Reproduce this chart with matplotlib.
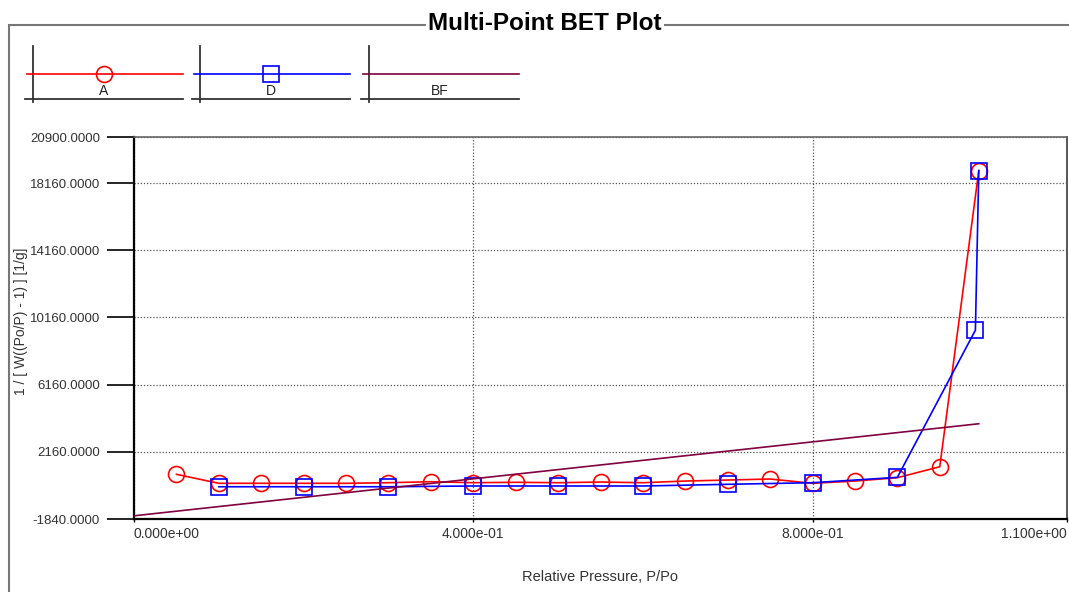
import numpy as np
import matplotlib.pyplot as plt
from matplotlib.lines import Line2D
from matplotlib.patches import Rectangle

##################################################################################
# DATA
##################################################################################

a_x = [0.05, 0.10, 0.15, 0.20, 0.25, 0.30, 0.35, 0.40, 0.45, 0.50,
       0.55, 0.60, 0.65, 0.70, 0.75, 0.80, 0.85, 0.90, 0.95, 0.996]
a_y = [820, 285, 285, 285, 285, 320, 380, 320, 345, 320,
       360, 320, 420, 480, 540, 285, 420, 620, 1270, 18900]

d_x = [0.10, 0.20, 0.30, 0.40, 0.50, 0.60, 0.70, 0.80, 0.90, 0.992, 0.996]
d_y = [80, 80, 80, 125, 125, 125, 225, 320, 640, 9400, 18900]

bf_x = [0.0, 0.996]
bf_y = [-1650, 3830]

y_ticks = [-1840, 2160, 6160, 10160, 14160, 18160, 20900]
x_ticks = [0.0, 0.4, 0.8, 1.1]
x_tick_labels = ["0.000e+00", "4.000e-01", "8.000e-01", "1.100e+00"]
series_names = ["A", "D", "BF"]

RED, BLUE, BF_COL = "#ff0000", "#0000ff", "#800040"

##################################################################################
# FIGURE
##################################################################################

plt.rcParams['font.family'] = ['Liberation Sans', 'DejaVu Sans']
W, H = 1069, 592
fig = plt.figure(figsize=(W / 100, H / 100), dpi=100)

def fx(px): return px / W
def fy(py): return 1 - py / H

# outer frame with the title sitting on its top edge
fig.add_artist(Rectangle((fx(9), -0.1), 1.2, fy(25) + 0.1, transform=fig.transFigure,
                         fill=False, ec="#777777", lw=1.5, zorder=1))
fig.text(fx(545), fy(24), "Multi-Point BET Plot", ha="center", va="center",
         fontsize=17.5, fontweight="bold", color="black", zorder=5,
         bbox=dict(fc="white", ec="none", pad=2))

ax = fig.add_axes([fx(134), fy(519), (1067 - 134) / W, (519 - 137) / H])
ax.set_xlim(0, 1.1)
ax.set_ylim(-1840, 20900)

ax.plot(a_x, a_y, color=RED, lw=1.2, marker="o", ms=11.5, mfc="none", mec=RED, mew=1.2, zorder=3)
ax.plot(d_x, d_y, color=BLUE, lw=1.2, marker="s", ms=11.5, mfc="none", mec=BLUE, mew=1.2, zorder=4)
ax.plot(bf_x, bf_y, color=BF_COL, lw=1.2, zorder=5)

ax.set_yticks(y_ticks)
ax.set_yticklabels([f"{v:.4f}" for v in y_ticks])
ax.set_xticks(x_ticks)
ax.set_xticklabels(x_tick_labels)
labels = ax.get_xticklabels()
labels[0].set_ha("left")
labels[-1].set_ha("right")

ax.tick_params(axis="y", length=19.5, width=1.2, pad=5, labelsize=9.5, labelcolor="#333333")
ax.tick_params(axis="x", length=2.5, width=1.0, pad=3, labelsize=10, labelcolor="#333333")

ax.grid(True, color="#555555", lw=0.9, linestyle=(0, (1, 1.5)))
ax.set_axisbelow(True)

ax.spines["left"].set_linewidth(1.6)
ax.spines["bottom"].set_linewidth(1.6)
ax.spines["left"].set_color("black")
ax.spines["bottom"].set_color("black")
ax.spines["top"].set_color("#666666")
ax.spines["right"].set_color("#555555")
ax.spines["top"].set_linewidth(1.2)
ax.spines["right"].set_linewidth(1.4)

ax.set_xlabel("Relative Pressure, P/Po", fontsize=10.5, color="#333333", labelpad=21)
fig.text(fx(21), fy(321), "1 / [ W((Po/P) - 1) ] [1/g]", rotation=90, ha="center", va="center",
         fontsize=10, color="#333333", zorder=5)

##################################################################################
# LEGEND (three little boxes at the top left)
##################################################################################

legend_styles = [
    dict(color=RED, marker="o", mec=RED),
    dict(color=BLUE, marker="s", mec=BLUE),
    dict(color=BF_COL, marker=None, mec=BF_COL),
]
for i, (name, st) in enumerate(zip(series_names, legend_styles)):
    ox = [0, 167, 336][i]
    fig.add_artist(Line2D([fx(ox + 33)] * 2, [fy(46), fy(102)], color="#333333", lw=1.3))
    fig.add_artist(Line2D([fx(ox + 25), fx(ox + 183)], [fy(99)] * 2, color="#333333", lw=1.3))
    fig.add_artist(Line2D([fx(ox + 27), fx(ox + 104), fx(ox + 183)], [fy(74)] * 3,
                          color=st["color"], lw=1.2, marker=st["marker"], markevery=[1],
                          ms=11.5, mfc="none", mec=st["mec"], mew=1.2))
    fig.text(fx(ox + 104), fy(91), name, ha="center", va="center", fontsize=10, color="#222222")

fig.savefig("out.png", dpi=100)
